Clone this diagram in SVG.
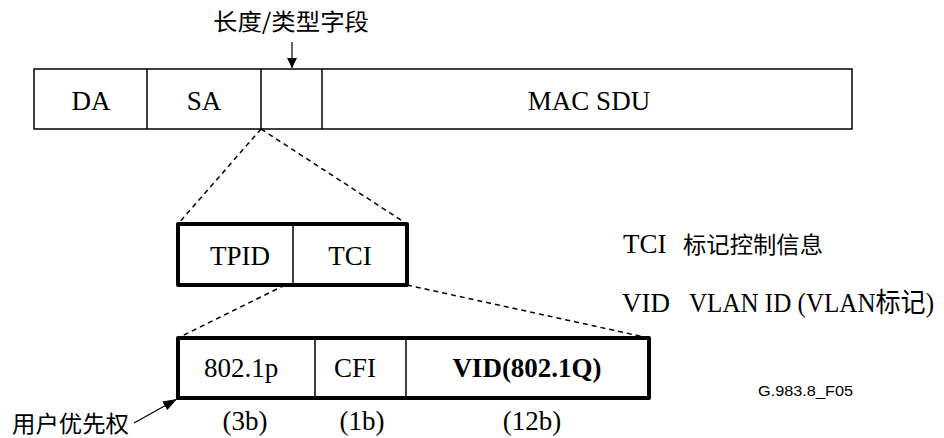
<svg xmlns="http://www.w3.org/2000/svg" width="944" height="438" viewBox="0 0 944 438">
<style>
.t{font-family:"Liberation Serif","Noto Sans CJK SC",serif;font-size:27px;fill:#000;text-anchor:middle}
.s{font-family:"Liberation Serif","Noto Sans CJK SC",serif;font-size:27px;fill:#000}
.c{font-family:"Noto Sans CJK SC","Liberation Serif",sans-serif;font-size:23px;fill:#000}
.thin{fill:none;stroke:#000;stroke-width:1.5}
.thick{fill:none;stroke:#000;stroke-width:4;stroke-linejoin:round}
.dash{fill:none;stroke:#000;stroke-width:1.5;stroke-dasharray:5,4}
.ln{fill:none;stroke:#000;stroke-width:1.2}
</style>
<defs>
<marker id="ah" viewBox="0 0 10 10" refX="10" refY="5" markerWidth="10" markerHeight="10" markerUnits="userSpaceOnUse" orient="auto">
<path d="M0,0 L10,5 L0,10 z" fill="#000"/>
</marker>
<marker id="ah2" viewBox="0 0 14 10" refX="14" refY="5" markerWidth="14" markerHeight="10" markerUnits="userSpaceOnUse" orient="auto">
<path d="M0,0 L14,5 L0,10 z" fill="#000"/>
</marker>
</defs>
<g id="connectors">
<line class="ln" x1="292" y1="42" x2="292" y2="68" marker-end="url(#ah)"/>
<line class="dash" x1="261" y1="129" x2="178" y2="224"/>
<line class="dash" x1="261" y1="129" x2="407" y2="224"/>
<line class="dash" x1="285" y1="285" x2="178" y2="338"/>
<line class="dash" x1="407" y1="285" x2="649" y2="338"/>
<line class="ln" x1="134" y1="423" x2="177" y2="399" marker-end="url(#ah2)"/>
</g>
<g id="title">
<text class="c" x="213" y="30" textLength="156" lengthAdjust="spacingAndGlyphs">长度/类型字段</text>
</g>
<g id="frame">
<rect class="thin" x="34" y="69" width="818" height="60"/>
<line class="thin" x1="147" y1="69" x2="147" y2="129"/>
<line class="thin" x1="261" y1="69" x2="261" y2="129"/>
<line class="thin" x1="322" y1="69" x2="322" y2="129"/>
<text class="t" x="91" y="110">DA</text>
<text class="t" x="204" y="110">SA</text>
<text class="t" x="589" y="110">MAC SDU</text>
</g>
<g id="tag">
<rect class="thick" x="178" y="224" width="229" height="61"/>
<line class="thin" x1="293" y1="224" x2="293" y2="285"/>
<text class="t" x="240" y="265">TPID</text>
<text class="t" x="350" y="265">TCI</text>
</g>
<g id="tci">
<rect class="thick" x="178" y="338" width="471" height="60"/>
<line class="thin" x1="315" y1="338" x2="315" y2="398"/>
<line class="thin" x1="406" y1="338" x2="406" y2="398"/>
<text class="t" x="241" y="377">802.1p</text>
<text class="t" x="355" y="377">CFI</text>
<text class="t" x="527" y="377" font-weight="bold">VID(802.1Q)</text>
<text class="t" x="245" y="430">(3b)</text>
<text class="t" x="362" y="430">(1b)</text>
<text class="t" x="532" y="430">(12b)</text>
</g>
<g id="user-priority">
<text class="c" x="12" y="432" font-size="24" textLength="117" lengthAdjust="spacingAndGlyphs">用户优先权</text>
</g>
<g id="legend">
<text class="s" x="623" y="253">TCI</text>
<text class="c" x="683" y="253" textLength="140" lengthAdjust="spacingAndGlyphs">标记控制信息</text>
<text class="s" x="622" y="312">VID</text>
<text class="s" x="689" y="312" font-size="22" textLength="245" lengthAdjust="spacingAndGlyphs">VLAN ID (VLAN标记)</text>
<text x="758" y="396" font-family="Liberation Sans,Arial,sans-serif" font-size="14" textLength="95" lengthAdjust="spacingAndGlyphs">G.983.8_F05</text>
</g>
</svg>
